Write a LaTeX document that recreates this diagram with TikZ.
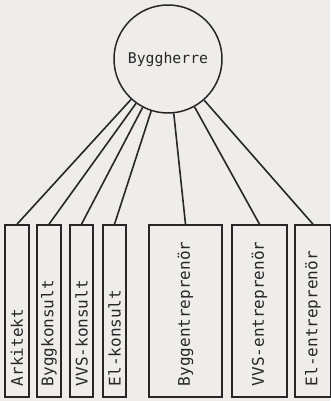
\documentclass[tikz,border=0pt]{standalone}
\usepackage{fontspec}
\newfontfamily\techfont{DejaVu Sans Mono}
\definecolor{paper}{RGB}{238,237,233}
\definecolor{ink}{RGB}{40,38,40}
\tikzset{
  member/.style={draw=ink,line width=1.8pt,rotate=90,anchor=west,
    minimum height=#1,text width=150pt,inner xsep=11pt,align=left,
    font=\techfont\fontsize{16}{16}\selectfont,text=ink},
  link/.style={draw=ink,line width=1.6pt}
}
\begin{document}
\begin{tikzpicture}[x=1pt,y=1pt]
  % Paper and frame
  \useasboundingbox (0,0) rectangle (330,401);
  \fill[paper] (0,0) rectangle (330,401);

  % Client
  \node[circle,draw=ink,line width=1.5pt,minimum size=108pt,inner sep=0pt,
    font=\techfont\fontsize{14.8}{15}\selectfont,text=ink] (B) at (168,342) {Byggherre};

  % Consultants and contractors
  \foreach \n/\x/\w/\txt in {1/17/24/Arkitekt,2/49/24/Byggkonsult,
      3/81.5/23/VVS-konsult,4/114.5/23/El-konsult,5/185.5/73/Byggentreprenör,
      6/259.5/55/VVS-entreprenör,7/313/36/El-entreprenör}
    \node[member=\w pt] (M-\n) at (\x,3) {\txt};

  % Connect client to members
  \foreach \n in {1,...,7}
    \draw[link] (M-\n.east) -- (B);
\end{tikzpicture}
\end{document}
